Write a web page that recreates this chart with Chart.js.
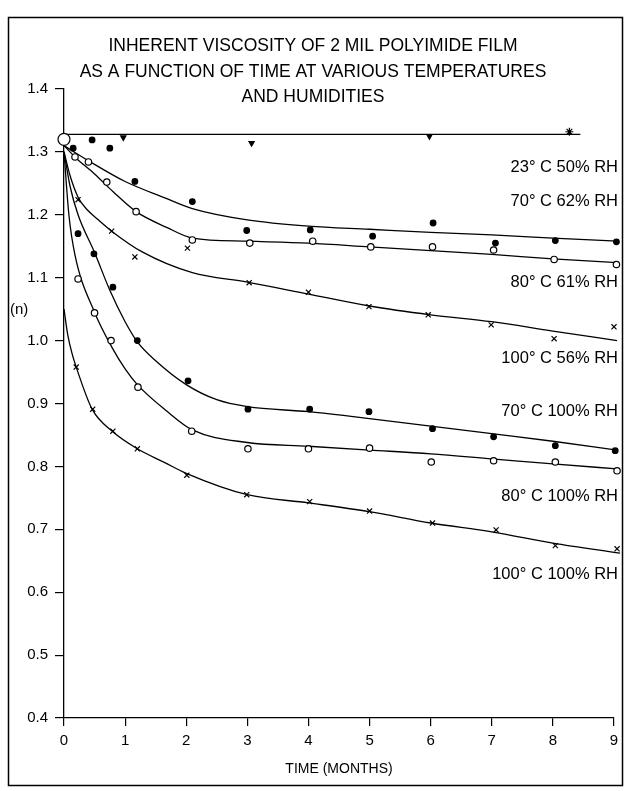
<!DOCTYPE html>
<html><head><meta charset="utf-8">
<script src="https://cdn.jsdelivr.net/npm/chart.js@4.4.0/dist/chart.umd.min.js"></script>
<style>html,body{margin:0;padding:0;background:#fff;}canvas{display:block}</style>
</head><body>
<canvas id="c" width="627" height="791"></canvas>
<script>
// ---- text ----
const titleLines = ["INHERENT VISCOSITY OF 2 MIL POLYIMIDE FILM", "AS A FUNCTION OF TIME AT VARIOUS TEMPERATURES", "AND HUMIDITIES"];
const xAxisTitle = "TIME (MONTHS)";
const yAxisTitle = "(n)";
const seriesNames = ["23° C 50% RH", "70° C 62% RH", "80° C 61% RH", "100° C 56% RH", "70° C 100% RH", "80° C 100% RH", "100° C 100% RH"];
const seriesLabelAt = [1.276, 1.222, 1.093, 0.971, 0.887, 0.753, 0.628]; // label anchor in viscosity units
const xTickValues = [0,1,2,3,4,5,6,7,8,9];
const yTickValues = [0.4,0.5,0.6,0.7,0.8,0.9,1.0,1.1,1.2,1.3,1.4];

// ---- measured points (time in months, inherent viscosity) ----
const startT = [0], startV = [1.32];
const t23 = [0.97, 3.07, 5.98], v23 = [1.323, 1.314, 1.325];
const t23b = [8.27], v23b = [1.332];
const t70_62 = [0.15,0.46,0.75,1.16,2.1,2.99,4.03,5.05,6.04,7.06,8.04,9.04];
const v70_62 = [1.306,1.319,1.306,1.253,1.221,1.175,1.176,1.166,1.187,1.155,1.159,1.157];
const t80_61 = [0.18,0.4,0.7,1.18,2.1,3.04,4.07,5.02,6.03,7.03,8.02,9.04];
const v80_61 = [1.292,1.284,1.252,1.205,1.16,1.155,1.158,1.149,1.149,1.144,1.129,1.121];
const t100_56 = [0.23,0.78,1.16,2.02,3.03,4.0,4.99,5.96,6.99,8.02,9.0];
const v100_56 = [1.224,1.174,1.133,1.147,1.092,1.077,1.054,1.041,1.025,1.003,1.022];
const t70_100 = [0.23,0.49,0.8,1.2,2.03,3.01,4.02,4.99,6.03,7.03,8.04,9.02];
const v70_100 = [1.17,1.138,1.085,1.0,0.936,0.891,0.891,0.887,0.86,0.847,0.833,0.825];
const t80_100 = [0.23,0.5,0.77,1.21,2.09,3.01,4.0,5.0,6.01,7.03,8.04,9.05];
const v80_100 = [1.098,1.044,1.0,0.926,0.856,0.828,0.828,0.829,0.807,0.809,0.807,0.793];
const t100_100 = [0.2,0.47,0.8,1.2,2.01,2.99,4.02,5.0,6.03,7.07,8.04,9.05];
const v100_100 = [0.958,0.891,0.856,0.828,0.786,0.755,0.744,0.729,0.71,0.699,0.674,0.669];

// ---- fitted curves ----
const ct23 = [0, 8.45], cv23 = [1.328, 1.328];
const ct70_62 = [0,0.4,1,1.65,2.1,3,4,5,6,7,8,9.05];
const cv70_62 = [1.31,1.286,1.253,1.227,1.21,1.192,1.182,1.177,1.172,1.168,1.163,1.158];
const ct80_61 = [0,0.2,0.5,0.8,1.18,1.68,2.1,3,4,5,6,7,8,9.05];
const cv80_61 = [1.31,1.29,1.265,1.237,1.205,1.18,1.163,1.158,1.155,1.149,1.143,1.137,1.13,1.124];
const ct100_56 = [0,0.1,0.23,0.38,0.55,0.78,1.28,2.1,3,4,5,6,7,8,9.05];
const cv100_56 = [1.3,1.262,1.228,1.208,1.193,1.174,1.141,1.108,1.093,1.074,1.055,1.041,1.03,1.015,1.0];
const ct70_100 = [0,0.1,0.23,0.5,0.75,1.0,1.2,1.5,2.0,2.5,3,4,5,6,7,8,9.05];
const cv70_100 = [1.3,1.245,1.2,1.14,1.08,1.03,0.998,0.968,0.93,0.906,0.895,0.887,0.876,0.864,0.852,0.84,0.826];
const ct80_100 = [0,0.08,0.18,0.5,0.78,1.0,1.2,1.68,2.1,3,4,5,6,7,8,9.05];
const cv80_100 = [1.3,1.2,1.136,1.045,0.99,0.955,0.93,0.888,0.858,0.838,0.832,0.826,0.82,0.812,0.804,0.796];
const ct100_100 = [0,0.06,0.13,0.21,0.46,0.8,1.2,1.65,2,3,4,5,6,7,8,9.1];
const cv100_100 = [1.05,1.01,0.98,0.955,0.891,0.855,0.828,0.806,0.789,0.755,0.742,0.728,0.71,0.696,0.678,0.662];

const pts = (t, v) => t.map((x, i) => ({x: x, y: v[i]}));
const FONT = "'Liberation Sans', Arial, sans-serif";

function curve(t, v) {
  return {data: pts(t, v), showLine: true, borderColor: '#000', borderWidth: 1.3, pointRadius: 0,
    cubicInterpolationMode: 'monotone', fill: false, order: 2, clip: false};
}
function marks(t, v, style, fill, r, rot) {
  return {data: pts(t, v), showLine: false, pointStyle: style, pointRadius: r, pointRotation: rot || 0,
    backgroundColor: fill, borderColor: '#000', borderWidth: 1.2, order: 1, clip: false};
}

const datasets = [
  curve(ct23, cv23), curve(ct70_62, cv70_62), curve(ct80_61, cv80_61), curve(ct100_56, cv100_56),
  curve(ct70_100, cv70_100), curve(ct80_100, cv80_100), curve(ct100_100, cv100_100),
  marks(t23, v23, 'triangle', '#000', 3, 180),
  marks(t23b, v23b, 'star', '#000', 4),
  marks(t70_62, v70_62, 'circle', '#000', 2.8),
  marks(t80_61, v80_61, 'circle', '#fff', 3.2),
  marks(t100_56, v100_56, 'crossRot', '#000', 3.6),
  marks(t70_100, v70_100, 'circle', '#000', 2.8),
  marks(t80_100, v80_100, 'circle', '#fff', 3.2),
  marks(t100_100, v100_100, 'crossRot', '#000', 3.6),
  marks(startT, startV, 'circle', '#fff', 6)
];

const decor = {
  id: 'decor',
  beforeDraw(chart) {
    const ctx = chart.ctx;
    ctx.save();
    ctx.fillStyle = '#fff';
    ctx.fillRect(0, 0, chart.width, chart.height);
    ctx.strokeStyle = '#000';
    ctx.lineWidth = 1.5;
    ctx.strokeRect(8.5, 17.5, 614, 768);
    ctx.restore();
  },
  afterDraw(chart) {
    const ctx = chart.ctx, ys = chart.scales.y, area = chart.chartArea;
    ctx.save();
    ctx.fillStyle = '#000';
    ctx.textBaseline = 'middle';
    ctx.textAlign = 'center';
    ctx.font = '17.5px ' + FONT;
    const tY = [46, 72, 97];
    titleLines.forEach((s, i) => ctx.fillText(s, 313, tY[i]));
    ctx.textAlign = 'left';
    ctx.font = '15px ' + FONT;
    ctx.fillText(yAxisTitle, 10, ys.getPixelForValue(1.049));
    ctx.textAlign = 'right';
    ctx.font = '16.5px ' + FONT;
    seriesNames.forEach((s, i) => ctx.fillText(s, area.right + 4, ys.getPixelForValue(seriesLabelAt[i])));
    ctx.restore();
  }
};

new Chart(document.getElementById('c'), {
  type: 'scatter',
  data: {datasets},
  options: {
    responsive: false, animation: false, devicePixelRatio: 1,
    layout: {padding: {left: 0, right: 13, top: 89, bottom: 13}},
    plugins: {legend: {display: false}, tooltip: {enabled: false}, title: {display: false}},
    scales: {
      x: {
        type: 'linear', min: 0, max: 9,
        afterBuildTicks: s => { s.ticks = xTickValues.map(v => ({value: v})); },
        afterFit: s => { s.height = 60; },
        border: {display: true, color: '#000', width: 1.3},
        grid: {drawOnChartArea: false, drawTicks: true, tickLength: 8, color: '#000', lineWidth: 1.2},
        ticks: {color: '#000', padding: 6, font: {family: FONT, size: 15}, callback: v => String(v), maxRotation: 0},
        title: {display: true, text: xAxisTitle, color: '#000', font: {family: FONT, size: 14}, padding: 0}
      },
      y: {
        type: 'linear', min: 0.4, max: 1.4,
        afterBuildTicks: s => { s.ticks = yTickValues.map(v => ({value: v})); },
        afterFit: s => { s.width = 64; },
        border: {display: true, color: '#000', width: 1.3},
        grid: {drawOnChartArea: false, drawTicks: true, tickLength: 9, color: '#000', lineWidth: 1.2},
        ticks: {color: '#000', padding: 7, font: {family: FONT, size: 15}, callback: v => Number(v).toFixed(1)}
      }
    }
  },
  plugins: [decor]
});
</script>
</body></html>
